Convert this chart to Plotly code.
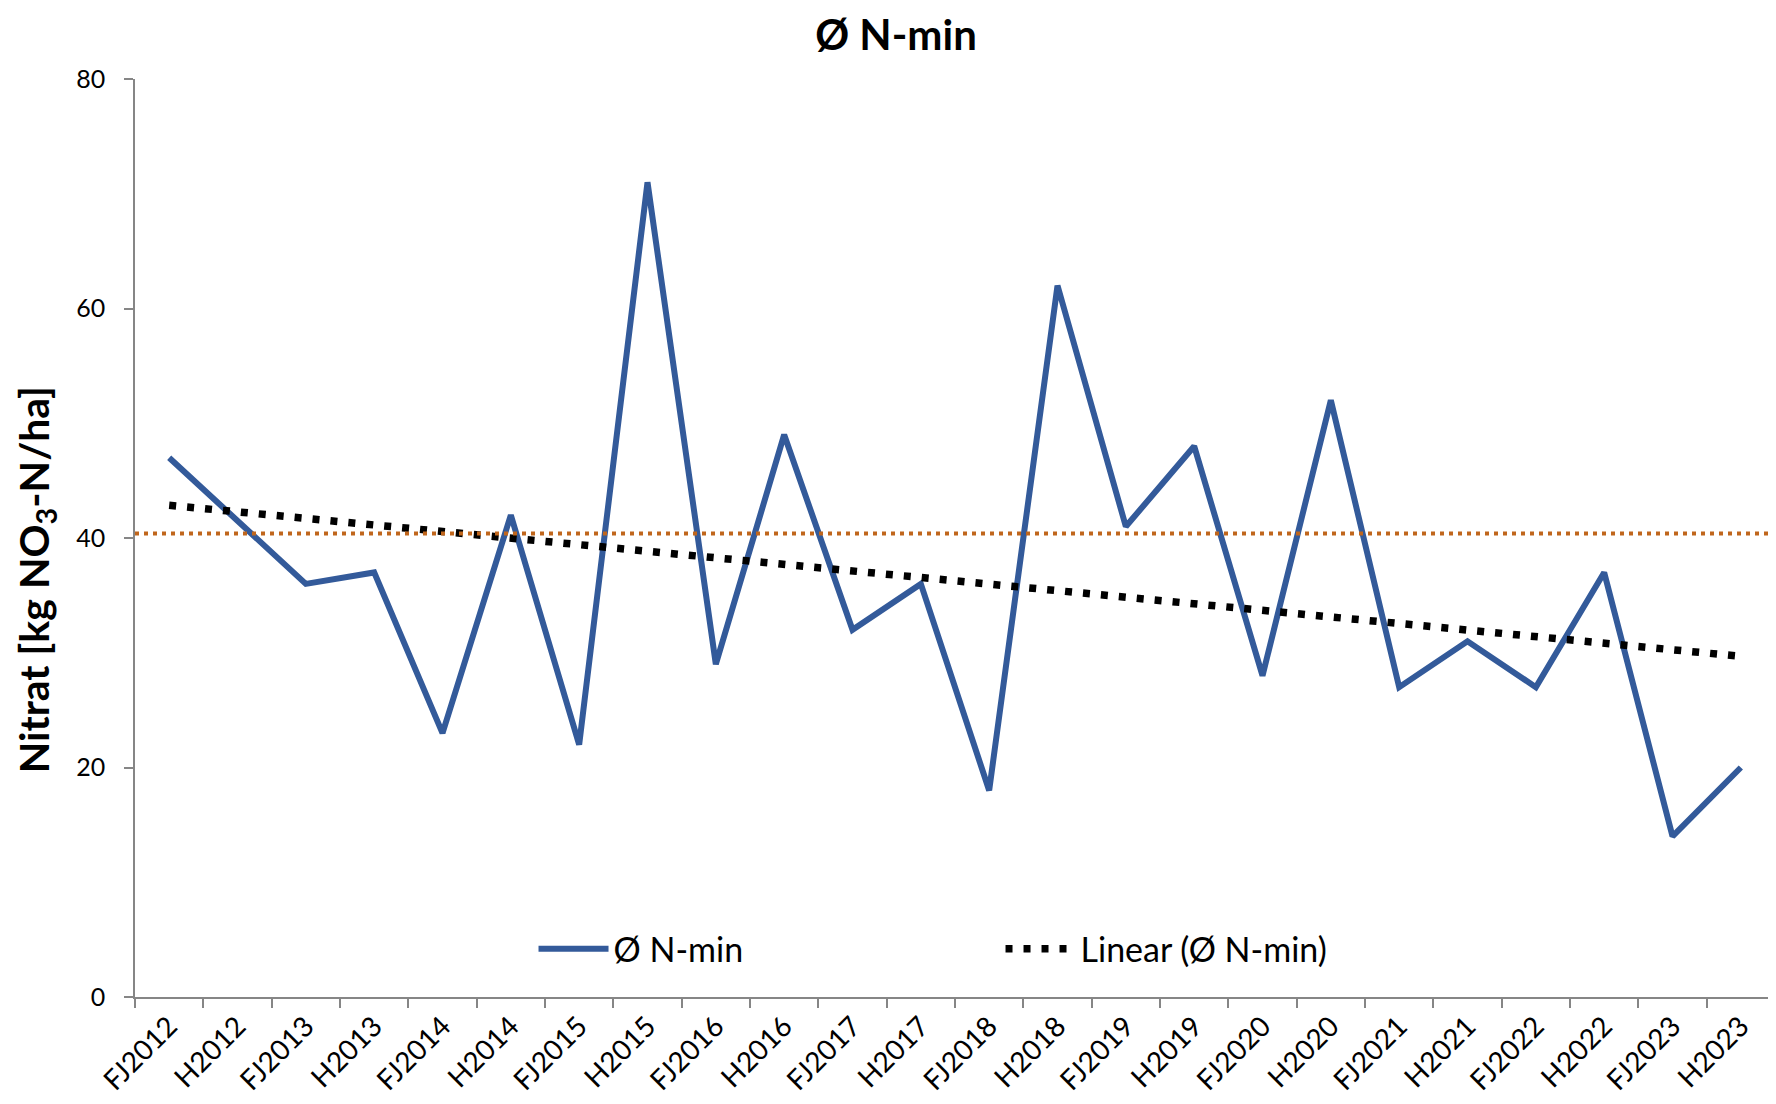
import numpy as np
import plotly.graph_objects as go

categories = ["FJ2012", "H2012", "FJ2013", "H2013", "FJ2014", "H2014", "FJ2015", "H2015",
              "FJ2016", "H2016", "FJ2017", "H2017", "FJ2018", "H2018", "FJ2019", "H2019",
              "FJ2020", "H2020", "FJ2021", "H2021", "FJ2022", "H2022", "FJ2023", "H2023"]
nmin_values = [47, 41.5, 36, 37, 23, 42, 22, 71, 29, 49, 32, 36, 18, 62, 41, 48,
               28, 52, 27, 31, 27, 37, 14, 20]
reference_level = 40.4
y_ticks = [0, 20, 40, 60, 80]

idx = np.arange(len(nmin_values))
slope, intercept = np.polyfit(idx, nmin_values, 1)
trend = slope * idx + intercept

FONT = "Lato"
fig = go.Figure()
fig.add_trace(go.Scatter(
    x=categories, y=nmin_values, mode="lines", name="Ø N-min",
    line=dict(color="#335A9A", width=6),
))
fig.add_trace(go.Scatter(
    x=categories, y=trend, mode="lines", name="Linear (Ø N-min)",
    line=dict(color="#000000", width=7.5, dash="7px,11px"),
))
fig.add_shape(type="line", xref="paper", yref="y", x0=0, x1=1,
              y0=reference_level, y1=reference_level,
              line=dict(color="#C0661C", width=4, dash="4px,5px"))

fig.add_annotation(
    text="<b>Nitrat [kg NO<sub>3</sub>-N/ha]</b>", textangle=-90,
    xref="paper", yref="paper", x=0, y=0.454, xshift=-99,
    xanchor="center", yanchor="middle", showarrow=False,
    font=dict(family=FONT, size=41, color="#000000"),
)

fig.update_layout(
    width=1776, height=1104,
    paper_bgcolor="white", plot_bgcolor="white",
    margin=dict(l=127, r=9, t=71, b=115),
    font=dict(family=FONT, color="#000000"),
    title=dict(text="<b>Ø N-min</b>", x=0.5, xanchor="center", y=0.975, yanchor="middle",
               font=dict(family=FONT, size=42, color="#000000")),
    showlegend=True,
    legend=dict(orientation="h", x=0.243, xanchor="left", y=0.052, yanchor="middle",
                font=dict(family=FONT, size=34, color="#000000"),
                itemwidth=70, entrywidth=382, bgcolor="rgba(0,0,0,0)"),
    xaxis=dict(
        type="category", range=[-0.5, len(categories) - 0.5], automargin=False,
        tickson="boundaries", ticks="outside", ticklen=9, tickwidth=1.5, tickcolor="#868686",
        showline=True, linecolor="#868686", linewidth=1.5, showgrid=False, zeroline=False,
        tickangle=-45, tickfont=dict(family=FONT, size=28, color="#000000"),
    ),
    yaxis=dict(
        range=[0, 80], tickvals=y_ticks, ticks="outside", ticklen=9, tickwidth=1.5,
        tickcolor="#868686", showline=True, linecolor="#868686", linewidth=1.5,
        showgrid=False, zeroline=False, ticklabelstandoff=14, automargin=False,
        tickfont=dict(family=FONT, size=25, color="#000000"),
    ),
)
fig.write_html("out.html")
